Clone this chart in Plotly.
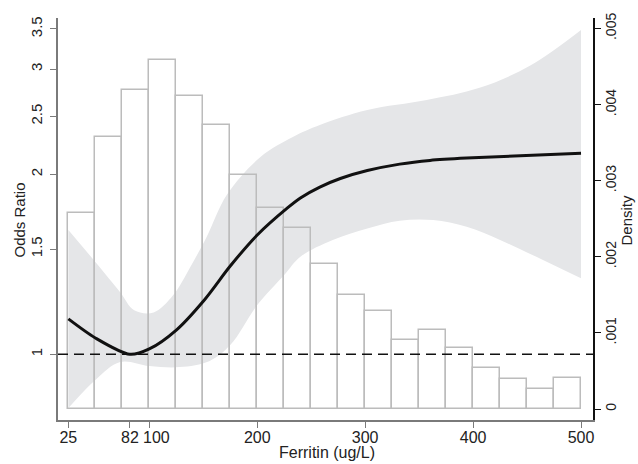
import math
import plotly.graph_objects as go

# ---- data ----
bin_centers = [37.5, 62.5, 87.5, 112.5, 137.5, 162.5, 187.5, 212.5, 237.5, 262.5,
               287.5, 312.5, 337.5, 362.5, 387.5, 412.5, 437.5, 462.5, 487.5]
density = [0.002576, 0.003578, 0.004196, 0.004582, 0.004113, 0.003736, 0.003071,
           0.002645, 0.002382, 0.001901, 0.001498, 0.001284, 0.000907, 0.001042,
           0.000806, 0.000543, 0.000398, 0.000259, 0.000411]

curve_x = [25, 50, 82, 100, 125, 151, 175, 200, 228, 240, 258, 277, 302, 332, 360, 394, 500]
curve_or = [1.146, 1.065, 1.0, 1.021, 1.098, 1.233, 1.405, 1.583, 1.757, 1.826, 1.904,
            1.968, 2.029, 2.080, 2.110, 2.129, 2.168]

upper_x = [25, 50, 73, 86, 104, 122, 138, 153, 172, 203, 233, 258, 302, 357, 406, 453, 500]
upper_or = [1.614, 1.427, 1.270, 1.185, 1.175, 1.255, 1.400, 1.570, 1.850, 2.138, 2.309,
            2.418, 2.562, 2.662, 2.790, 3.040, 3.486]

lower_x = [25, 50, 73, 100, 128, 156, 175, 200, 225, 240, 270, 302, 332, 363, 394, 425, 455, 500]
lower_or = [0.813, 0.906, 0.971, 0.956, 0.952, 0.975, 1.036, 1.209, 1.357, 1.456, 1.553,
            1.624, 1.673, 1.677, 1.634, 1.553, 1.466, 1.340]

x_ticks = [25, 82, 100, 200, 300, 400, 500]
x_ticktext = ["25", "82", "", "200", "300", "400", "500"]
label_100_x = 107.1   # the "100" label sits a little right of its tick in the reference
or_ticks = [1, 1.5, 2, 2.5, 3, 3.5]
or_ticktext = ["1", "1.5", "2", "2.5", "3", "3.5"]
dens_ticks = [0, 0.001, 0.002, 0.003, 0.004, 0.005]
dens_ticktext = ["0", ".001", ".002", ".003", ".004", ".005"]

# ---- figure ----
FONT = "Liberation Sans, Arial, sans-serif"
XR = [15.4, 511.1]
ORR = [math.log10(0.7765), math.log10(3.651)]
DR = [-0.0001445, 0.005138]

fig = go.Figure()

# confidence band
fig.add_trace(go.Scatter(x=lower_x, y=lower_or, mode="lines", line=dict(width=0, shape="spline"),
                         hoverinfo="skip", showlegend=False, xaxis="x", yaxis="y"))
fig.add_trace(go.Scatter(x=upper_x, y=upper_or, mode="lines", line=dict(width=0, shape="spline"),
                         fill="tonexty", fillcolor="#e5e6e8",
                         hoverinfo="skip", showlegend=False, xaxis="x", yaxis="y"))

# histogram
fig.add_trace(go.Bar(x=bin_centers, y=density, width=25,
                     marker=dict(color="rgba(0,0,0,0)", line=dict(color="#bcbcbc", width=1.5)),
                     showlegend=False, xaxis="x", yaxis="y2"))

# reference line and OR curve
fig.add_trace(go.Scatter(x=XR, y=[1, 1], mode="lines",
                         line=dict(color="#111", width=1.5, dash="10px,6px"),
                         showlegend=False, xaxis="x", yaxis="y3"))
fig.add_trace(go.Scatter(x=curve_x, y=curve_or, mode="lines",
                         line=dict(color="#111", width=3, shape="spline", smoothing=0.8),
                         showlegend=False, xaxis="x", yaxis="y3"))

axis_common = dict(showgrid=False, zeroline=False, ticks="outside", ticklen=6,
                   showline=True, linewidth=1.5, automargin=False)

fig.update_layout(
    template="none",
    width=638, height=464,
    margin=dict(l=58, r=45, t=18, b=44, autoexpand=False),
    paper_bgcolor="white", plot_bgcolor="white",
    font=dict(family=FONT, color="#222", size=15),
    bargap=0,
    showlegend=False,
    xaxis=dict(range=XR, tickvals=x_ticks, ticktext=x_ticktext, tickangle=0,
               linecolor="#7a7a7a", tickcolor="#7a7a7a", tickfont=dict(size=16),
               ticklabelstandoff=-4, **axis_common),
    yaxis=dict(type="log", range=ORR, tickvals=or_ticks, ticktext=or_ticktext,
               tickangle=-90, linecolor="#7a7a7a", tickcolor="#7a7a7a", tickfont=dict(size=15),
               ticklabelstandoff=2, **axis_common),
    yaxis2=dict(range=DR, tickvals=dens_ticks, ticktext=dens_ticktext, side="right",
                overlaying="y", tickangle=-90, linecolor="#111", tickcolor="#111",
                tickfont=dict(size=14), ticklabelstandoff=-2, **axis_common),
    yaxis3=dict(type="log", range=ORR, overlaying="y", visible=False, automargin=False),
    annotations=[
        dict(text="100", xref="x", yref="paper", x=label_100_x, y=-0.018,
             xanchor="center", yanchor="top", showarrow=False, font=dict(size=16)),
        dict(text="Ferritin (ug/L)", xref="paper", yref="paper", x=0.5037, y=-0.108,
             xanchor="center", yanchor="bottom", showarrow=False, font=dict(size=16)),
        dict(text="Odds Ratio", xref="paper", yref="paper", x=-0.0738, y=0.4975, textangle=-90,
             xanchor="center", yanchor="middle", showarrow=False, font=dict(size=15)),
        dict(text="Density", xref="paper", yref="paper", x=1.0626, y=0.4975, textangle=-90,
             xanchor="center", yanchor="middle", showarrow=False, font=dict(size=15)),
    ],
)

fig.write_html("out.html", config={"displayModeBar": False},
               post_script="document.body.style.margin='0';document.body.style.padding='0';"
                           "document.body.style.overflow='hidden';")
